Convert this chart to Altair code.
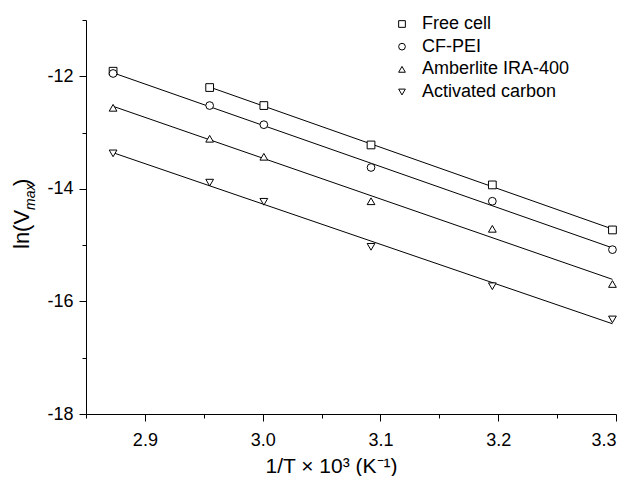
import altair as alt
import pandas as pd

x_vals = [2.873, 2.955, 3.001, 3.092, 3.195, 3.297]
free_cell = [-11.91, -12.20, -12.52, -13.22, -13.93, -14.73]
cf_pei = [-11.95, -12.52, -12.86, -13.62, -14.22, -15.08]
amberlite = [-12.56, -13.11, -13.43, -14.22, -14.71, -15.69]
activated = [-13.37, -13.89, -14.23, -15.03, -15.73, -16.32]
series_names = ["Free cell", "CF-PEI", "Amberlite IRA-400", "Activated carbon"]
fit_first = [1, 0, 0, 0]  # first point index used in the fitted line
shapes = ["square", "circle", "triangle-up", "triangle-down"]

x_ticks = [2.85, 2.9, 2.95, 3.0, 3.05, 3.1, 3.15, 3.2, 3.25, 3.3]
y_ticks = [-18, -17, -16, -15, -14, -13, -12, -11]

rows = []
for si, (name, ys) in enumerate(zip(series_names, [free_cell, cf_pei, amberlite, activated])):
    for i, (xv, yv) in enumerate(zip(x_vals, ys)):
        rows.append({"x": xv, "y": yv, "series": name, "order": si, "in_fit": i >= fit_first[si]})
df = pd.DataFrame(rows)
legend_df = pd.DataFrame({"series": series_names})

FONT = "Liberation Sans"

xscale = alt.Scale(domain=[2.85, 3.3], nice=False, zero=False)
yscale = alt.Scale(domain=[-18, -11], nice=False, zero=False)
shape_scale = alt.Scale(domain=series_names, range=shapes)

major_x = "abs(datum.value*10 - round(datum.value*10)) < 0.001"
major_y = "datum.value % 2 == 0"

xaxis = alt.Axis(
    values=x_ticks,
    labelExpr=f"{major_x} ? format(datum.value, '.1f') : ''",
    tickSize={"condition": {"test": major_x, "value": 7}, "value": 4},
    labelFontSize=18, labelFont=FONT, labelColor="black", labelPadding=10,
    domainColor="black", tickColor="black", grid=False,
    title="1/T × 10³ (K⁻¹)", titleFontSize=21, titleFont=FONT, titleFontWeight="normal",
    titleColor="black", titleX=245, titleY=58, titleAlign="center", titleBaseline="alphabetic",
)
yaxis = alt.Axis(
    values=y_ticks,
    labelExpr=f"{major_y} ? toString(datum.value) : ''",
    tickSize={"condition": {"test": major_y, "value": 7}, "value": 4},
    labelFontSize=18, labelFont=FONT, labelColor="black", labelPadding=6,
    domainColor="black", tickColor="black", grid=False, title=None,
)

base = alt.Chart(df)

lines = base.transform_filter("datum.in_fit").transform_regression(
    "x", "y", groupby=["series"]
).mark_line(color="black", strokeWidth=1).encode(
    x=alt.X("x:Q", scale=xscale, axis=xaxis),
    y=alt.Y("y:Q", scale=yscale, axis=yaxis),
    detail="series:N",
)

points = base.mark_point(filled=False, color="black", fill="white", fillOpacity=1,
                         strokeWidth=1, opacity=1, size=60).encode(
    x=alt.X("x:Q", scale=xscale),
    y=alt.Y("y:Q", scale=yscale),
    shape=alt.Shape("series:N", scale=shape_scale, legend=None),
    order="order:Q",
)

t1 = alt.Chart(pd.DataFrame({"t": ["ln(V"]})).mark_text(
    angle=270, align="left", baseline="alphabetic", fontSize=22, font=FONT, color="black"
).encode(x=alt.value(-57), y=alt.value(229), text="t:N")
t2 = alt.Chart(pd.DataFrame({"t": ["max"]})).mark_text(
    angle=270, align="left", baseline="alphabetic", fontSize=14, font=FONT, fontStyle="italic", color="black"
).encode(x=alt.value(-51), y=alt.value(190), text="t:N")
t3 = alt.Chart(pd.DataFrame({"t": [")"]})).mark_text(
    angle=270, align="left", baseline="alphabetic", fontSize=22, font=FONT, color="black"
).encode(x=alt.value(-57), y=alt.value(166), text="t:N")

main = alt.layer(lines, points, t1, t2, t3)

# legend drawn as its own layer, rows placed by a point scale over the series names
legend_y = alt.Y("series:N", sort=series_names, axis=None,
                 scale=alt.Scale(type="point", domain=series_names, range=[4, 72], padding=0))
leg_pts = alt.Chart(legend_df).mark_point(filled=False, color="black", fill="white", fillOpacity=1,
                                          strokeWidth=1, size=45).encode(
    x=alt.value(316), y=legend_y,
    shape=alt.Shape("series:N", scale=shape_scale, legend=None),
)
leg_txt = alt.Chart(legend_df).mark_text(align="left", baseline="middle", fontSize=18, font=FONT,
                                         color="black").encode(
    x=alt.value(336), y=legend_y, text="series:N",
)
legend = alt.layer(leg_pts, leg_txt)

chart = alt.layer(main, legend).resolve_scale(y="independent").resolve_axis(y="independent").properties(
    width=530, height=394,
    autosize=alt.AutoSizeParams(type="none"),
    padding={"left": 78, "top": 12, "right": 6, "bottom": 62},
    background="white",
).configure_view(stroke=None)

chart.save("out.html", embed_options={"renderer": "svg", "actions": False})
